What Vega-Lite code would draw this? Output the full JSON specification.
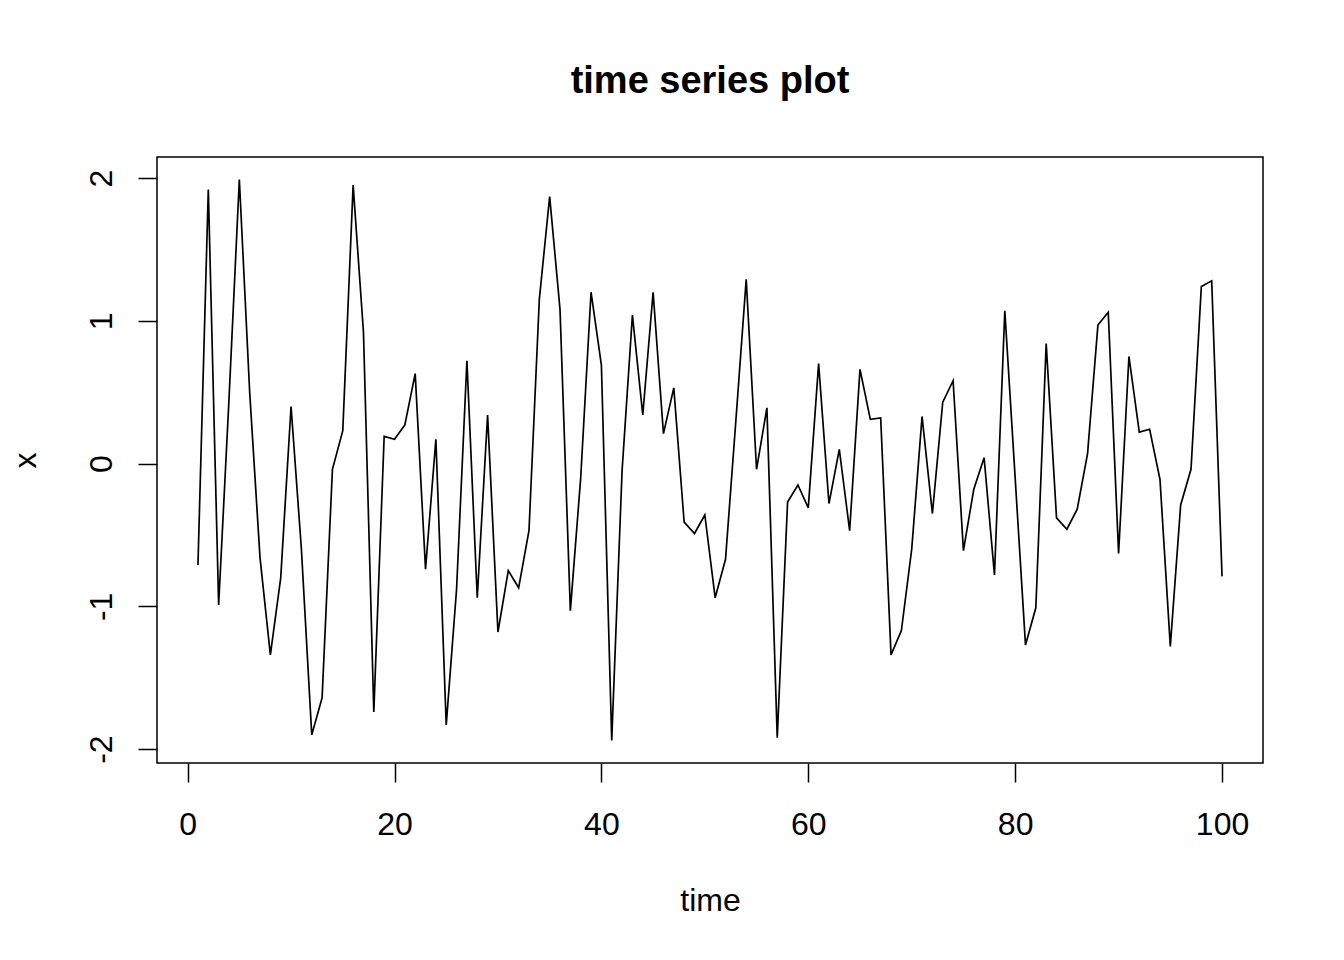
{
  "$schema": "https://vega.github.io/schema/vega-lite/v6.json",
  "autosize": {"type": "none"},
  "padding": {"left": 157, "top": 157, "right": 81, "bottom": 197},
  "width": 1106,
  "height": 606,
  "background": "white",
  "title": {
    "text": "time series plot",
    "fontSize": 38,
    "fontWeight": "bold",
    "font": "Liberation Sans",
    "color": "black",
    "anchor": "middle",
    "frame": "group",
    "baseline": "alphabetic",
    "offset": 26
  },
  "config": {
    "view": {"stroke": "black", "strokeWidth": 1.5},
    "font": "Liberation Sans"
  },
  "data": {
    "values": [
      {"time": 1, "x": -0.71}, {"time": 2, "x": 1.92}, {"time": 3, "x": -0.99}, {"time": 4, "x": 0.45}, {"time": 5, "x": 1.99},
      {"time": 6, "x": 0.5}, {"time": 7, "x": -0.66}, {"time": 8, "x": -1.34}, {"time": 9, "x": -0.8}, {"time": 10, "x": 0.4},
      {"time": 11, "x": -0.6}, {"time": 12, "x": -1.9}, {"time": 13, "x": -1.64}, {"time": 14, "x": -0.04}, {"time": 15, "x": 0.23},
      {"time": 16, "x": 1.95}, {"time": 17, "x": 0.92}, {"time": 18, "x": -1.74}, {"time": 19, "x": 0.19}, {"time": 20, "x": 0.17},
      {"time": 21, "x": 0.27}, {"time": 22, "x": 0.63}, {"time": 23, "x": -0.74}, {"time": 24, "x": 0.17}, {"time": 25, "x": -1.83},
      {"time": 26, "x": -0.88}, {"time": 27, "x": 0.72}, {"time": 28, "x": -0.94}, {"time": 29, "x": 0.34}, {"time": 30, "x": -1.18},
      {"time": 31, "x": -0.75}, {"time": 32, "x": -0.87}, {"time": 33, "x": -0.47}, {"time": 34, "x": 1.15}, {"time": 35, "x": 1.87},
      {"time": 36, "x": 1.08}, {"time": 37, "x": -1.03}, {"time": 38, "x": -0.1}, {"time": 39, "x": 1.2}, {"time": 40, "x": 0.69},
      {"time": 41, "x": -1.94}, {"time": 42, "x": -0.05}, {"time": 43, "x": 1.04}, {"time": 44, "x": 0.34}, {"time": 45, "x": 1.2},
      {"time": 46, "x": 0.21}, {"time": 47, "x": 0.53}, {"time": 48, "x": -0.41}, {"time": 49, "x": -0.49}, {"time": 50, "x": -0.36},
      {"time": 51, "x": -0.94}, {"time": 52, "x": -0.67}, {"time": 53, "x": 0.3}, {"time": 54, "x": 1.29}, {"time": 55, "x": -0.04},
      {"time": 56, "x": 0.39}, {"time": 57, "x": -1.92}, {"time": 58, "x": -0.27}, {"time": 59, "x": -0.15}, {"time": 60, "x": -0.31},
      {"time": 61, "x": 0.7}, {"time": 62, "x": -0.28}, {"time": 63, "x": 0.1}, {"time": 64, "x": -0.47}, {"time": 65, "x": 0.66},
      {"time": 66, "x": 0.31}, {"time": 67, "x": 0.32}, {"time": 68, "x": -1.34}, {"time": 69, "x": -1.17}, {"time": 70, "x": -0.6},
      {"time": 71, "x": 0.33}, {"time": 72, "x": -0.35}, {"time": 73, "x": 0.43}, {"time": 74, "x": 0.58}, {"time": 75, "x": -0.61},
      {"time": 76, "x": -0.18}, {"time": 77, "x": 0.04}, {"time": 78, "x": -0.78}, {"time": 79, "x": 1.07}, {"time": 80, "x": -0.1},
      {"time": 81, "x": -1.27}, {"time": 82, "x": -1.01}, {"time": 83, "x": 0.84}, {"time": 84, "x": -0.38}, {"time": 85, "x": -0.46},
      {"time": 86, "x": -0.32}, {"time": 87, "x": 0.07}, {"time": 88, "x": 0.97}, {"time": 89, "x": 1.06}, {"time": 90, "x": -0.63},
      {"time": 91, "x": 0.75}, {"time": 92, "x": 0.22}, {"time": 93, "x": 0.24}, {"time": 94, "x": -0.11}, {"time": 95, "x": -1.28},
      {"time": 96, "x": -0.29}, {"time": 97, "x": -0.04}, {"time": 98, "x": 1.24}, {"time": 99, "x": 1.28}, {"time": 100, "x": -0.79}
    ]
  },
  "mark": {"type": "line", "color": "black", "strokeWidth": 1.7},
  "encoding": {
    "x": {
      "field": "time",
      "type": "quantitative",
      "scale": {"domain": [-2.96, 103.96], "nice": false, "zero": false},
      "axis": {
        "values": [0, 20, 40, 60, 80, 100],
        "domain": false,
        "grid": false,
        "ticks": true,
        "tickSize": 19,
        "tickWidth": 1.5,
        "tickColor": "black",
        "labelExpr": "'' + datum.value",
        "labelFontSize": 32,
        "labelFont": "Liberation Sans",
        "labelColor": "black",
        "labelBaseline": "alphabetic",
        "labelPadding": 52,
        "labelFlush": false,
        "labelOverlap": false,
        "title": "time",
        "titleFont": "Liberation Sans",
        "titleFontSize": 32,
        "titleFontWeight": "normal",
        "titleColor": "black",
        "titlePadding": 45
      }
    },
    "y": {
      "field": "x",
      "type": "quantitative",
      "scale": {"domain": [-2.097, 2.147], "nice": false, "zero": false},
      "axis": {
        "values": [-2, -1, 0, 1, 2],
        "domain": false,
        "grid": false,
        "ticks": true,
        "tickSize": 19,
        "tickWidth": 1.5,
        "tickColor": "black",
        "labelExpr": "'' + datum.value",
        "labelAngle": -90,
        "labelAlign": "center",
        "labelBaseline": "alphabetic",
        "labelFontSize": 32,
        "labelFont": "Liberation Sans",
        "labelColor": "black",
        "labelPadding": 27,
        "labelFlush": false,
        "labelOverlap": false,
        "title": "x",
        "titleFont": "Liberation Sans",
        "titleFontSize": 32,
        "titleFontWeight": "normal",
        "titleColor": "black",
        "titlePadding": 43
      }
    }
  }
}
